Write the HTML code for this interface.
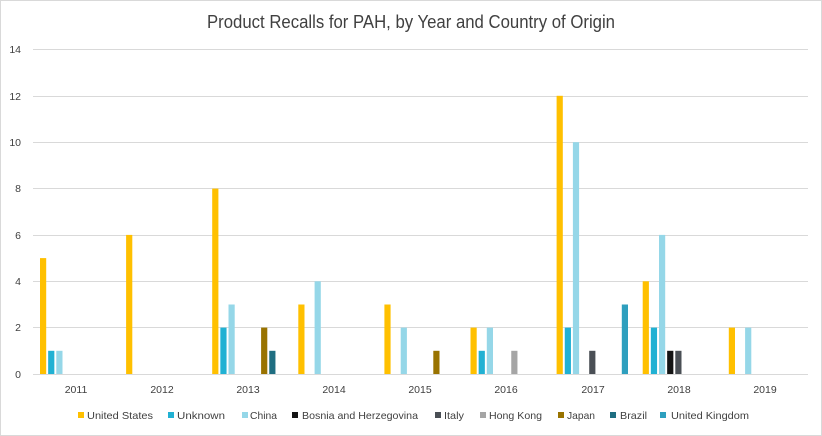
<!DOCTYPE html>
<html><head><meta charset="utf-8"><style>
html,body{margin:0;padding:0;background:#fff}
svg{display:block;font-family:"Liberation Sans",Calibri,sans-serif}
.y{font-size:10.5px;fill:#404040;text-anchor:end}
.x{font-size:10.5px;fill:#404040;text-anchor:middle}
.l{font-size:10.5px;fill:#404040}
</style></head><body>
<svg width="822" height="436" viewBox="0 0 822 436">
<rect x="0.5" y="0.5" width="821" height="435" fill="#fff" stroke="#d9d9d9"/>
<text x="411" y="28" font-size="18" fill="#404040" text-anchor="middle" textLength="408" lengthAdjust="spacingAndGlyphs">Product Recalls for PAH, by Year and Country of Origin</text>
<g stroke="#d9d9d9" stroke-width="1">
<line x1="33" x2="808" y1="49.5" y2="49.5"/>
<line x1="33" x2="808" y1="96.5" y2="96.5"/>
<line x1="33" x2="808" y1="142.5" y2="142.5"/>
<line x1="33" x2="808" y1="188.5" y2="188.5"/>
<line x1="33" x2="808" y1="235.5" y2="235.5"/>
<line x1="33" x2="808" y1="281.5" y2="281.5"/>
<line x1="33" x2="808" y1="327.5" y2="327.5"/>
<line x1="33" x2="808" y1="374.5" y2="374.5"/>
</g>
<g class="y">
<text x="21" y="53" class="y">14</text>
<text x="21" y="100" class="y">12</text>
<text x="21" y="146" class="y">10</text>
<text x="21" y="192" class="y">8</text>
<text x="21" y="239" class="y">6</text>
<text x="21" y="285" class="y">4</text>
<text x="21" y="331" class="y">2</text>
<text x="21" y="378" class="y">0</text>
</g>
<g>
<text class="x" x="76" y="393">2011</text>
<text class="x" x="162" y="393">2012</text>
<text class="x" x="248" y="393">2013</text>
<text class="x" x="334" y="393">2014</text>
<text class="x" x="420" y="393">2015</text>
<text class="x" x="506" y="393">2016</text>
<text class="x" x="593" y="393">2017</text>
<text class="x" x="679" y="393">2018</text>
<text class="x" x="765" y="393">2019</text>
</g>
<g>
<rect x="40" y="258.1" width="6.2" height="115.9" fill="#FFC000"/>
<rect x="48.15" y="350.8" width="6.2" height="23.2" fill="#21B1D3"/>
<rect x="56.3" y="350.8" width="6.2" height="23.2" fill="#95D7E8"/>
<rect x="126.1" y="234.9" width="6.2" height="139.1" fill="#FFC000"/>
<rect x="212.2" y="188.6" width="6.2" height="185.4" fill="#FFC000"/>
<rect x="220.35" y="327.6" width="6.2" height="46.4" fill="#21B1D3"/>
<rect x="228.5" y="304.5" width="6.2" height="69.5" fill="#95D7E8"/>
<rect x="261.1" y="327.6" width="6.2" height="46.4" fill="#997300"/>
<rect x="269.25" y="350.8" width="6.2" height="23.2" fill="#1F6E81"/>
<rect x="298.3" y="304.5" width="6.2" height="69.5" fill="#FFC000"/>
<rect x="314.6" y="281.3" width="6.2" height="92.7" fill="#95D7E8"/>
<rect x="384.4" y="304.5" width="6.2" height="69.5" fill="#FFC000"/>
<rect x="400.7" y="327.6" width="6.2" height="46.4" fill="#95D7E8"/>
<rect x="433.3" y="350.8" width="6.2" height="23.2" fill="#997300"/>
<rect x="470.5" y="327.6" width="6.2" height="46.4" fill="#FFC000"/>
<rect x="478.65" y="350.8" width="6.2" height="23.2" fill="#21B1D3"/>
<rect x="486.8" y="327.6" width="6.2" height="46.4" fill="#95D7E8"/>
<rect x="511.25" y="350.8" width="6.2" height="23.2" fill="#A5A5A5"/>
<rect x="556.6" y="95.8" width="6.2" height="278.2" fill="#FFC000"/>
<rect x="564.75" y="327.6" width="6.2" height="46.4" fill="#21B1D3"/>
<rect x="572.9" y="142.2" width="6.2" height="231.8" fill="#95D7E8"/>
<rect x="589.2" y="350.8" width="6.2" height="23.2" fill="#4A4F55"/>
<rect x="621.8" y="304.5" width="6.2" height="69.5" fill="#2E9FBE"/>
<rect x="642.7" y="281.3" width="6.2" height="92.7" fill="#FFC000"/>
<rect x="650.85" y="327.6" width="6.2" height="46.4" fill="#21B1D3"/>
<rect x="659" y="234.9" width="6.2" height="139.1" fill="#95D7E8"/>
<rect x="667.15" y="350.8" width="6.2" height="23.2" fill="#141414"/>
<rect x="675.3" y="350.8" width="6.2" height="23.2" fill="#4A4F55"/>
<rect x="728.8" y="327.6" width="6.2" height="46.4" fill="#FFC000"/>
<rect x="745.1" y="327.6" width="6.2" height="46.4" fill="#95D7E8"/>
</g>
<g>
<rect x="78" y="412" width="6" height="6" fill="#FFC000"/><text class="l" x="87" y="419" textLength="66" lengthAdjust="spacingAndGlyphs">United States</text>
<rect x="168" y="412" width="6" height="6" fill="#21B1D3"/><text class="l" x="177" y="419" textLength="48" lengthAdjust="spacingAndGlyphs">Unknown</text>
<rect x="242" y="412" width="6" height="6" fill="#95D7E8"/><text class="l" x="250" y="419" textLength="27" lengthAdjust="spacingAndGlyphs">China</text>
<rect x="292" y="412" width="6" height="6" fill="#141414"/><text class="l" x="302" y="419" textLength="116" lengthAdjust="spacingAndGlyphs">Bosnia and Herzegovina</text>
<rect x="435" y="412" width="6" height="6" fill="#4A4F55"/><text class="l" x="444" y="419" textLength="20" lengthAdjust="spacingAndGlyphs">Italy</text>
<rect x="480" y="412" width="6" height="6" fill="#A5A5A5"/><text class="l" x="489" y="419" textLength="53" lengthAdjust="spacingAndGlyphs">Hong Kong</text>
<rect x="558" y="412" width="6" height="6" fill="#997300"/><text class="l" x="567" y="419" textLength="28" lengthAdjust="spacingAndGlyphs">Japan</text>
<rect x="610" y="412" width="6" height="6" fill="#1F6E81"/><text class="l" x="620" y="419" textLength="27" lengthAdjust="spacingAndGlyphs">Brazil</text>
<rect x="660" y="412" width="6" height="6" fill="#2E9FBE"/><text class="l" x="671" y="419" textLength="78" lengthAdjust="spacingAndGlyphs">United Kingdom</text>
</g>
</svg>
</body></html>
